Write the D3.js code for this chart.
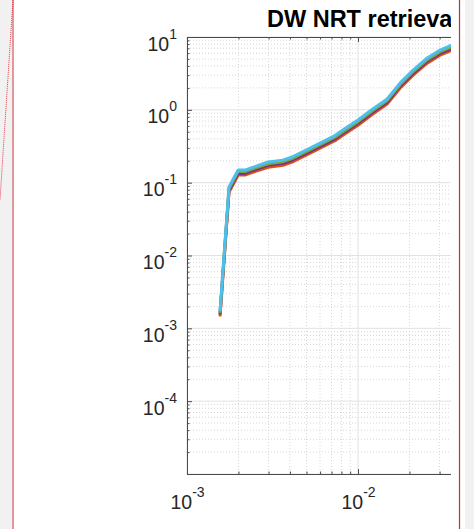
<!DOCTYPE html>
<html>
<head>
<meta charset="utf-8">
<script src="https://cdn.jsdelivr.net/npm/d3@7"></script>
<style>
  body { margin: 0; background: #fff; overflow: hidden; }
  svg { display: block; font-family: "Liberation Sans", Arial, Helvetica, sans-serif; }
</style>
</head>
<body>
<svg id="chart" width="474" height="529"></svg>
<script>
// data
var freq = [1.56e-3, 1.76e-3, 1.99e-3, 2.18e-3, 2.54e-3, 2.98e-3, 3.64e-3, 4.11e-3, 4.58e-3, 5.11e-3,
  6.0e-3, 7.33e-3, 8.4e-3, 1.0e-2, 1.22e-2, 1.48e-2, 1.76e-2, 2.1e-2, 2.54e-2, 3.02e-2, 3.55e-2, 4.2e-2];
var orangeVals = [1.46e-3, 0.074, 0.127, 0.127, 0.144, 0.163, 0.173, 0.191, 0.217, 0.247,
  0.298, 0.377, 0.470, 0.615, 0.875, 1.20, 1.98, 2.99, 4.38, 5.63, 6.60, 7.3];
var purpleVals = [1.55e-3, 0.078, 0.134, 0.134, 0.152, 0.173, 0.184, 0.203, 0.230, 0.261,
  0.315, 0.399, 0.498, 0.652, 0.927, 1.27, 2.10, 3.17, 4.64, 5.96, 6.98, 7.7];
var greenVals = [1.63e-3, 0.083, 0.142, 0.142, 0.161, 0.182, 0.194, 0.214, 0.242, 0.276,
  0.333, 0.421, 0.525, 0.688, 0.979, 1.34, 2.21, 3.34, 4.89, 6.29, 7.37, 8.1];
var cyanVals = [1.72e-3, 0.087, 0.149, 0.149, 0.169, 0.192, 0.204, 0.225, 0.255, 0.290,
  0.350, 0.443, 0.553, 0.724, 1.03, 1.41, 2.33, 3.52, 5.15, 6.62, 7.76, 8.6];
var seriesColors = ["#D95319", "#7E2F8E", "#77AC30", "#4DBEEE"];

var xMajor = [1e-3, 1e-2, 1e-1];
var xLabelled = [1e-3, 1e-2];
var xLabels = ["10^-3", "10^-2"];
var yMajor = [1e-5, 1e-4, 1e-3, 1e-2, 1e-1, 1e0, 1e1];
var yLabelled = [1e-4, 1e-3, 1e-2, 1e-1, 1e0, 1e1];
var yLabels = ["10^-4", "10^-3", "10^-2", "10^-1", "10^0", "10^1"];
var titleText = "DW NRT retrieval";

var svg = d3.select("#chart");
var plot = { left: 187, right: 451, top: 37, bottom: 474 };

// scales (one decade = 171px across, the axes run on past the crop)
var x = d3.scaleLog().domain([1e-3, 1e-1]).range([plot.left, plot.left + 2 * 171]);
var y = d3.scaleLog().domain([1e-5, 1e1]).range([plot.bottom, plot.top]);

function minorsOf(majors) {
  var out = [];
  majors.slice(0, -1).forEach(function (m) {
    for (var k = 2; k <= 9; k++) out.push(m * k);
  });
  return out;
}
var xMinor = minorsOf(xMajor);
var yMinor = minorsOf(yMajor);

svg.append("defs").append("clipPath").attr("id", "crop")
  .append("rect").attr("x", 0).attr("y", 0).attr("width", plot.right).attr("height", 529);

var g = svg.append("g").attr("clip-path", "url(#crop)");

// grid
var grid = g.append("g").attr("class", "grid");
grid.selectAll(".xminor").data(xMinor).enter().append("line")
  .attr("x1", d => x(d)).attr("x2", d => x(d)).attr("y1", plot.top).attr("y2", plot.bottom)
  .attr("stroke", "#cdcdcd").attr("stroke-width", 0.8).attr("stroke-dasharray", "1,2");
grid.selectAll(".yminor").data(yMinor).enter().append("line")
  .attr("x1", plot.left).attr("x2", 600).attr("y1", d => y(d)).attr("y2", d => y(d))
  .attr("stroke", "#cdcdcd").attr("stroke-width", 0.8).attr("stroke-dasharray", "1,2");
grid.selectAll(".xmajor").data(xMajor).enter().append("line")
  .attr("x1", d => x(d)).attr("x2", d => x(d)).attr("y1", plot.top).attr("y2", plot.bottom)
  .attr("stroke", "#e2e2e2").attr("stroke-width", 1);
grid.selectAll(".ymajor").data(yMajor).enter().append("line")
  .attr("x1", plot.left).attr("x2", 600).attr("y1", d => y(d)).attr("y2", d => y(d))
  .attr("stroke", "#e2e2e2").attr("stroke-width", 1);

// lines
var allSeries = [orangeVals, purpleVals, greenVals, cyanVals];
var line = d3.line()
  .x(function (d, i) { return x(freq[i]); })
  .y(function (d) { return y(d); });
g.selectAll(".series").data(allSeries).enter().append("path")
  .attr("class", "series")
  .attr("d", line)
  .attr("fill", "none")
  .attr("stroke", (d, i) => seriesColors[i])
  .attr("stroke-width", 3)
  .attr("stroke-linejoin", "round");

// axes
function styleAxis(sel) {
  sel.select(".domain").attr("stroke", "#4a4a4a");
  sel.selectAll(".tick line").attr("stroke", "#4a4a4a");
}
function powLabel(textSel, labels, vals) {
  textSel.each(function (d) {
    var lab = labels[vals.indexOf(d)].split("^");
    var t = d3.select(this).text(null);
    t.append("tspan").attr("font-size", "19.5px").text(lab[0]);
    t.append("tspan").attr("font-size", "14px").attr("dy", "-12").text(lab[1]);
  });
}

var yAxis = g.append("g").attr("transform", "translate(" + plot.left + ",0)")
  .call(d3.axisLeft(y).tickValues(yMajor).tickSize(-5).tickFormat(""));
var yLab = g.append("g").attr("transform", "translate(" + plot.left + ",0)")
  .call(d3.axisLeft(y).tickValues(yLabelled).tickSize(0).tickPadding(10).tickFormat(d => d));
yLab.select(".domain").remove();
yLab.selectAll(".tick text").attr("dy", "13").attr("fill", "#262626").call(powLabel, yLabels, yLabelled);
var yAxisMinor = g.append("g").attr("transform", "translate(" + plot.left + ",0)")
  .call(d3.axisLeft(y).tickValues(yMinor).tickSize(-2.5).tickFormat(""));
yAxisMinor.select(".domain").remove();

var xAxis = g.append("g").attr("transform", "translate(0," + plot.bottom + ")")
  .call(d3.axisBottom(x).tickValues(xMajor).tickSize(-5).tickFormat(""));
var xLab = g.append("g").attr("transform", "translate(0," + plot.bottom + ")")
  .call(d3.axisBottom(x).tickValues(xLabelled).tickSize(0).tickPadding(35).tickFormat(d => d));
xLab.select(".domain").remove();
xLab.selectAll(".tick text").attr("dy", "0").attr("fill", "#262626").call(powLabel, xLabels, xLabelled);
var xAxisMinor = g.append("g").attr("transform", "translate(0," + plot.bottom + ")")
  .call(d3.axisBottom(x).tickValues(xMinor).tickSize(-2.5).tickFormat(""));
xAxisMinor.select(".domain").remove();

var topAxis = g.append("g").attr("transform", "translate(0," + plot.top + ")")
  .call(d3.axisTop(x).tickValues(xMajor).tickSize(-5).tickFormat(""));
var topAxisMinor = g.append("g").attr("transform", "translate(0," + plot.top + ")")
  .call(d3.axisTop(x).tickValues(xMinor).tickSize(-2.5).tickFormat(""));
topAxisMinor.select(".domain").remove();

[yAxis, yAxisMinor, xAxis, xAxisMinor, topAxis, topAxisMinor].forEach(styleAxis);
g.selectAll(".domain").attr("stroke-width", 1);

// title (cut off by the crop like in the screenshot)
g.append("text")
  .attr("x", 267).attr("y", 27)
  .attr("font-size", "23.5px").attr("font-weight", "bold").attr("fill", "#000")
  .text(titleText);

// window frame bits around the figure
svg.append("rect").attr("x", 0).attr("y", 0).attr("width", 12).attr("height", 529).attr("fill", "#f1f1f1");
svg.append("rect").attr("x", 465).attr("y", 0).attr("width", 9).attr("height", 529).attr("fill", "#f1f1f1");
svg.append("line").attr("x1", 13).attr("x2", 13).attr("y1", 0).attr("y2", 529)
  .attr("stroke", "#e4979b").attr("stroke-width", 2);
svg.append("line").attr("x1", 13).attr("y1", 0).attr("x2", 0).attr("y2", 200)
  .attr("stroke", "#d8404c").attr("stroke-width", 1).attr("stroke-dasharray", "1,1");
svg.append("line").attr("x1", 459.5).attr("x2", 459.5).attr("y1", 0).attr("y2", 529)
  .attr("stroke", "#c0302e").attr("stroke-width", 1.2);
</script>
</body>
</html>
